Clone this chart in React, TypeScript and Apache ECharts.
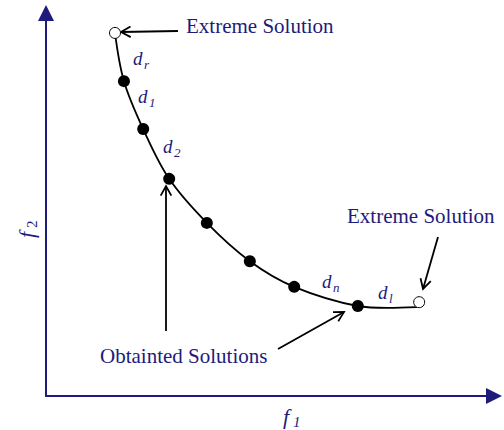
import React, { useEffect, useRef } from "react";
import * as echarts from "echarts";

// Pareto front: obtained (filled) solutions, extreme (open) solutions, and the curve trace
const solutionsX = [17.4, 21.7, 27.5, 35.9, 45.5, 55.4, 69.6];
const solutionsY = [82.2, 69.7, 56.7, 45.2, 35.2, 28.5, 23.5];
const extremeX = [15.4, 83.3];
const extremeY = [94.8, 24.5];
const curveX = [15.4, 17.4, 21.7, 27.5, 35.9, 45.5, 55.4, 69.6, 76.3, 82.8];
const curveY = [94.8, 82.2, 69.7, 56.7, 45.2, 35.2, 28.5, 23.5, 23.0, 23.2];
const distanceLabels = [
  { sub: "r" },
  { sub: "1" },
  { sub: "2" },
  { sub: "n" },
  { sub: "l" },
];
const annotationTexts = ["Extreme Solution", "Extreme Solution", "Obtainted Solutions"];
const axisNames = [{ main: "f", sub: "1" }, { main: "f", sub: "2" }];

const NAVY = "#1e1b7b";
const SERIF = "Liberation Serif, Times New Roman, serif";

function txt(x: number, y: number, text: string, size: number, italic = false, extra: any = {}) {
  return {
    type: "text",
    x,
    y,
    silent: true,
    style: {
      text,
      fill: NAVY,
      fontSize: size,
      fontFamily: SERIF,
      fontStyle: italic ? "italic" : "normal",
      align: "left",
      textAlign: "left",
      verticalAlign: "middle",
      textVerticalAlign: "middle",
    },
    ...extra,
  };
}

function arrow(x1: number, y1: number, x2: number, y2: number) {
  const ang = Math.atan2(y2 - y1, x2 - x1);
  const L = 11;
  const a = (29 * Math.PI) / 180;
  const h1 = [x2 - L * Math.cos(ang - a), y2 - L * Math.sin(ang - a)];
  const h2 = [x2 - L * Math.cos(ang + a), y2 - L * Math.sin(ang + a)];
  const style = { stroke: "#000", lineWidth: 1.8, fill: null };
  return [
    { type: "line", silent: true, shape: { x1, y1, x2, y2 }, style },
    { type: "polyline", silent: true, shape: { points: [h1, [x2, y2], h2] }, style },
  ];
}

export default function App() {
  const ref = useRef<HTMLDivElement>(null);
  useEffect(() => {
    if (!ref.current) return;
    const chart = echarts.init(ref.current, null, { renderer: "svg" });
    const dPos = [
      [133, 58.5],
      [138, 96.5],
      [163, 146.5],
      [322, 281.5],
      [378, 292],
    ];
    const graphic: any[] = [];
    distanceLabels.forEach((d, i) => {
      const [x, y] = dPos[i];
      graphic.push(txt(x, y, "d", 19, true));
      graphic.push(txt(x + 11, y + 6, d.sub, 13, true));
    });
    graphic.push(txt(186, 26, annotationTexts[0], 21));
    graphic.push(txt(347, 216, annotationTexts[1], 21));
    graphic.push(txt(100, 356, annotationTexts[2], 21));
    // axis names
    graphic.push(txt(283, 416, axisNames[0].main, 22, true));
    graphic.push(txt(293, 422, axisNames[0].sub, 15, true));
    graphic.push({
      type: "group",
      x: 33.5,
      y: 238,
      rotation: Math.PI / 2,
      children: [
        txt(0, -7.5, axisNames[1].main, 22, true),
        txt(10, -2, axisNames[1].sub, 15, false),
      ],
    });
    graphic.push(...arrow(178, 31, 121, 32));
    graphic.push(...arrow(438, 237, 423, 289));
    graphic.push(...arrow(166, 331, 166, 186));
    graphic.push(...arrow(278, 349, 344, 312));

    const axisCommon = {
      type: "value",
      min: 0,
      max: 100,
      axisLine: {
        show: true,
        symbol: ["none", "triangle"],
        symbolSize: [16, 16],
        lineStyle: { color: NAVY, width: 2 },
      },
      axisTick: { show: false },
      axisLabel: { show: false },
      splitLine: { show: false },
    };

    chart.setOption({
      animation: false,
      backgroundColor: "#fff",
      grid: { left: 46, right: 10, top: 13, bottom: 34 },
      xAxis: { ...axisCommon },
      yAxis: { ...axisCommon },
      series: [
        {
          type: "line",
          data: curveX.map((x, i) => [x, curveY[i]]),
          showSymbol: false,
          smooth: 0.35,
          lineStyle: { color: "#000", width: 1.8 },
          silent: true,
          z: 2,
        },
        {
          type: "scatter",
          data: solutionsX.map((x, i) => [x, solutionsY[i]]),
          symbolSize: 12,
          itemStyle: { color: "#000", opacity: 1 },
          z: 3,
        },
        {
          type: "scatter",
          data: extremeX.map((x, i) => [x, extremeY[i]]),
          symbolSize: 11,
          itemStyle: { color: "#fff", borderColor: "#000", borderWidth: 1, opacity: 1 },
          z: 3,
        },
      ],
      graphic,
    });
    return () => chart.dispose();
  }, []);
  return (
    <div
      ref={ref}
      style={{ position: "fixed", left: 0, top: 0, width: 504, height: 430 }}
    />
  );
}
